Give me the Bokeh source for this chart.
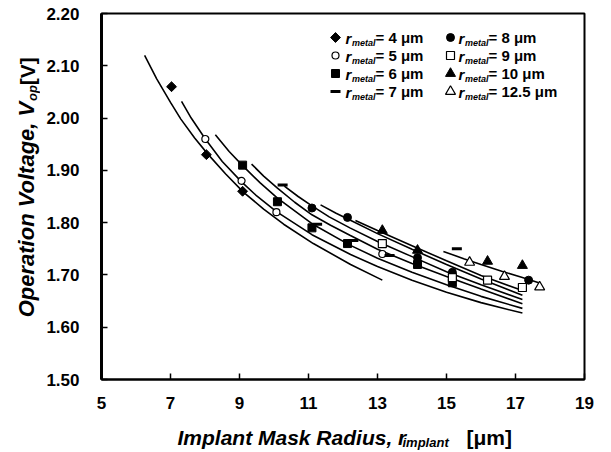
import math
from bokeh.plotting import figure
from bokeh.layouts import column, row
from bokeh.models import Range1d, FixedTicker, PrintfTickFormatter, Label
from bokeh.embed import file_html
from bokeh.resources import INLINE

# ---------------- data ----------------
x_ticks = [5, 7, 9, 11, 13, 15, 17, 19]
y_ticks = [1.50, 1.60, 1.70, 1.80, 1.90, 2.00, 2.10, 2.20]

# measured points per metal radius
r4_x = [7.03, 8.04, 9.09]
r4_y = [2.06, 1.93, 1.86]
r5_x = [8.01, 9.06, 10.07, 13.14]
r5_y = [1.96, 1.88, 1.82, 1.74]
r6_x = [9.09, 10.1, 11.1, 12.13, 14.16, 15.17]
r6_y = [1.91, 1.84, 1.79, 1.76, 1.72, 1.685]
r7_x = [10.25, 11.25, 12.3, 13.35, 15.3]
r7_y = [1.872, 1.797, 1.766, 1.737, 1.75]
r8_x = [11.1, 12.13, 14.16, 15.17, 17.38]
r8_y = [1.828, 1.81, 1.733, 1.705, 1.69]
r9_x = [13.14, 15.17, 16.19, 17.2]
r9_y = [1.76, 1.695, 1.69, 1.676]
r10_x = [13.14, 14.16, 16.19, 17.2]
r10_y = [1.785, 1.747, 1.726, 1.718]
r125_x = [15.67, 16.68, 17.7]
r125_y = [1.724, 1.697, 1.677]

# fitted curves
f4_x = [6.25, 6.6, 7.0, 7.3, 7.7, 8.07, 8.6, 9.12, 9.7, 10.28, 11.14, 12.22, 13.14]
f4_y = [2.12, 2.075, 2.03, 1.998, 1.962, 1.932, 1.893, 1.858, 1.826, 1.797, 1.760, 1.720, 1.690]
f5_x = [7.32, 7.6, 8.01, 8.5, 9.06, 9.5, 10.07, 11.1, 12.22, 13, 14, 15, 16, 17.2]
f5_y = [2.032, 2.0, 1.96, 1.917, 1.878, 1.851, 1.821, 1.777, 1.739, 1.716, 1.690, 1.667, 1.647, 1.627]
f6_x = [8.3, 8.7, 9.09, 9.6, 10.1, 11.1, 12.2, 13, 14, 15, 16, 17.2]
f6_y = [1.968, 1.936, 1.909, 1.876, 1.847, 1.798, 1.757, 1.732, 1.705, 1.681, 1.659, 1.636]
f7_x = [9.35, 9.7, 10.1, 10.6, 11.1, 11.64, 12.2, 13, 14, 15, 16, 17.2]
f7_y = [1.912, 1.889, 1.866, 1.839, 1.815, 1.795, 1.776, 1.749, 1.722, 1.697, 1.673, 1.645]
f8_x = [10.3, 10.7, 11.1, 11.6, 12.2, 13, 14, 15, 16, 17.2]
f8_y = [1.870, 1.850, 1.832, 1.811, 1.790, 1.764, 1.735, 1.706, 1.681, 1.653]
f9_x = [11.35, 11.8, 12.2, 13, 14, 15, 16, 17.2]
f9_y = [1.834, 1.818, 1.805, 1.779, 1.749, 1.720, 1.692, 1.661]
f10_x = [12.36, 13, 14, 15, 16, 17.2]
f10_y = [1.804, 1.785, 1.756, 1.727, 1.699, 1.670]
f125_x = [14.91, 15.5, 16.0, 16.6, 17.2, 17.72]
f125_y = [1.745, 1.731, 1.720, 1.707, 1.695, 1.684]

legend_values = ["4", "5", "6", "7", "8", "9", "10", "12.5"]

# ---------------- layout ----------------
W, H = 611, 452
LEFT_W = 40            # strip holding the y title
FL, FT, FW, FH = 101, 13, 483, 366   # frame box in page pixels
BOT = 44               # border under the frame inside the main figure
MAIN_H = FT + FH + BOT
BOTTOM_H = H - MAIN_H  # strip holding the x title
XR = (5, 19)
YR = (1.50, 2.20)
FONT = "Liberation Sans"
MID = 0.347            # em-box middle above the baseline


def dx(px):
    return XR[0] + (px - FL) / FW * (XR[1] - XR[0])


def dy(py):
    return YR[1] - (py - FT) / FH * (YR[1] - YR[0])


p = figure(frame_width=FW, frame_height=FH,
           min_border_left=FL - LEFT_W, min_border_right=W - FL - FW,
           min_border_top=FT, min_border_bottom=BOT,
           x_range=Range1d(*XR), y_range=Range1d(*YR),
           output_backend="svg", toolbar_location=None,
           background_fill_color="white", border_fill_color="white")
p.grid.visible = False
p.outline_line_color = "black"
p.outline_line_width = 2

for ax in (p.xaxis[0], p.yaxis[0]):
    ax.major_tick_in = 6
    ax.major_tick_out = 0
    ax.minor_tick_line_color = None
    ax.major_tick_line_color = "black"
    ax.major_tick_line_width = 1.5
    ax.major_label_text_font = FONT
    ax.major_label_text_font_style = "bold"
    ax.major_label_text_font_size = "17px"
    ax.major_label_text_color = "black"
    ax.axis_line_color = "black"

p.xaxis.ticker = FixedTicker(ticks=x_ticks)
p.yaxis.ticker = FixedTicker(ticks=y_ticks)
p.yaxis.formatter = PrintfTickFormatter(format="%.2f")
p.yaxis.axis_line_width = 3
p.xaxis.axis_line_width = 2
p.yaxis.major_label_standoff = 22
p.xaxis.major_label_standoff = 17

# curves
for cx, cy in [(f4_x, f4_y), (f5_x, f5_y), (f6_x, f6_y), (f7_x, f7_y),
               (f8_x, f8_y), (f9_x, f9_y), (f10_x, f10_y), (f125_x, f125_y)]:
    p.line(cx, cy, line_color="black", line_width=1.6)

styles = [
    dict(marker="square", size=7, angle=math.pi / 4, fill_color="black", line_color="black"),
    dict(marker="circle", size=7, fill_color="white", line_color="black", line_width=1.2),
    dict(marker="square", size=8, fill_color="black", line_color="black"),
    dict(marker="dash", size=10, fill_color="black", line_color="black", line_width=3),
    dict(marker="circle", size=8, fill_color="black", line_color="black"),
    dict(marker="square", size=8, fill_color="white", line_color="black", line_width=1.2),
    dict(marker="triangle", size=10, fill_color="black", line_color="black"),
    dict(marker="triangle", size=10, fill_color="white", line_color="black", line_width=1.2),
]
series = [(r4_x, r4_y), (r5_x, r5_y), (r6_x, r6_y), (r7_x, r7_y),
          (r8_x, r8_y), (r9_x, r9_y), (r10_x, r10_y), (r125_x, r125_y)]
for (sx_, sy_), st in zip(series, styles):
    p.scatter(sx_, sy_, **st)


def add_text(fig, x, y, text, size, style, angle=0.0, align="left"):
    fig.add_layout(Label(x=x, y=y, text=text, angle=angle, text_font=FONT,
                         text_font_style=style, text_font_size=f"{size}px",
                         text_baseline="middle", text_align=align,
                         text_color="black"))


# ---------------- legend (manual, two columns) ----------------
row_py = [37, 55, 73, 91]
cols = [dict(marker=335, r=345, sub=351.5, eq=375),
        dict(marker=450, r=458, sub=464.5, eq=488)]
for i, val in enumerate(legend_values):
    c = cols[i // 4]
    py = row_py[i % 4]
    p.scatter([dx(c["marker"])], [dy(py)], **styles[i])
    add_text(p, dx(c["r"]), dy(py + 1), "r", 15, "bold italic")
    add_text(p, dx(c["sub"]), dy(py + 5.5), "metal", 9, "bold italic")
    add_text(p, dx(c["eq"]), dy(py), "= " + val + " \u03bcm", 15, "bold")


# ---------------- title strips ----------------
def strip(w, h):
    f = figure(width=w, height=h, x_range=Range1d(0, w), y_range=Range1d(0, h),
               output_backend="svg", toolbar_location=None,
               x_axis_type=None, y_axis_type=None,
               min_border=0, outline_line_color=None,
               background_fill_color="white", border_fill_color="white")
    f.grid.visible = False
    return f


bottom = strip(W, BOTTOM_H)


def by(py):  # page y -> strip data y
    return H - py


XT_BASE = 444
add_text(bottom, 177, by(XT_BASE - MID * 21), "Implant Mask Radius, r", 21, "bold italic")
add_text(bottom, 402, by(XT_BASE + 3 - MID * 13), "implant", 13, "bold italic")
add_text(bottom, 466, by(XT_BASE - MID * 21), "[\u03bcm]", 21, "bold")

left = strip(LEFT_W, MAIN_H)


def ly(py):
    return MAIN_H - py


rot = math.pi / 2
YT_BASE = 34
JOIN = 102   # page y where the main y-title text ends and the subscript begins
add_text(left, YT_BASE - MID * 22, ly(JOIN), "Operation Voltage, V", 22, "bold italic",
         angle=rot, align="right")
add_text(left, YT_BASE + 3 - MID * 13, ly(JOIN - 1), "op", 13, "bold italic",
         angle=rot, align="left")
add_text(left, YT_BASE - MID * 21, ly(JOIN - 19), "[V]", 21, "bold",
         angle=rot, align="left")

layout = column(row(left, p, spacing=0), bottom, spacing=0)
open("out.html", "w").write(file_html(layout, INLINE))
